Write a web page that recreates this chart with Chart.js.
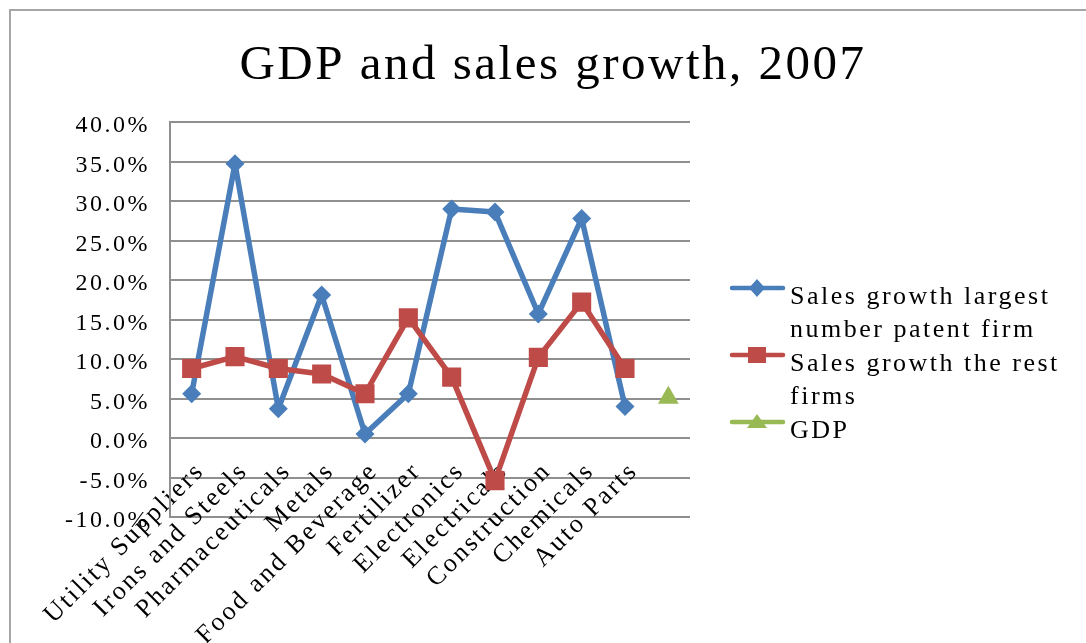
<!DOCTYPE html>
<html>
<head>
<meta charset="utf-8">
<script src="https://cdn.jsdelivr.net/npm/chart.js@4.4.1/dist/chart.umd.min.js"></script>
<style>
  body { margin: 0; background: #fff; }
  #wrap { position: relative; width: 1086px; height: 643px; overflow: hidden; }
  #ramka { position: absolute; left: 9px; top: 9px; width: 1200px; height: 800px; border: 2px solid #a6a6a6; }
  canvas { position: absolute; left: 0; top: 0; }
</style>
</head>
<body>
<div id="wrap">
  <div id="ramka"></div>
  <canvas id="wykres" width="1086" height="643"></canvas>
</div>
<script>
// industries on the category axis, last slot holds the GDP point
const categories = ["Utility Suppliers", "Irons and Steels", "Pharmaceuticals", "Metals", "Food and Beverage",
  "Fertilizer", "Electronics", "Electricals", "Construction", "Chemicals", "Auto Parts", ""];

// sales growth in %
const largestPatentFirm = [5.6, 34.7, 3.7, 18.1, 0.5, 5.6, 29.0, 28.6, 15.7, 27.8, 4.0, null];
const restFirms = [8.8, 10.3, 8.8, 8.1, 5.6, 15.2, 7.7, -5.4, 10.2, 17.2, 8.8, null];
const gdp = [null, null, null, null, null, null, null, null, null, null, null, 5.1];

const seriesNames = [
  ["Sales growth largest", "number patent firm"],
  ["Sales growth the rest", "firms"],
  ["GDP"]
];

const yMin = -10, yMax = 40, yStep = 5;

const blue = "#4a7ebb", red = "#be4b48", green = "#98b954", gray = "#8f8f8f";
const serif = "'Liberation Serif', 'Times New Roman', serif";
const legendWidth = 396;

Chart.defaults.font.family = serif;
Chart.defaults.color = "#000";

// small line + marker glyph for the legend
function ikona(color, shape) {
    let c = document.createElement("canvas");
    c.width = 106; c.height = 40;
    let g = c.getContext("2d");
    g.strokeStyle = color; g.fillStyle = color;
    g.lineWidth = 4.5; g.lineCap = "round";
    let y = 11, mx = 76;
    g.beginPath(); g.moveTo(51, y); g.lineTo(102, y); g.stroke();
    g.beginPath();
    if (shape === "diamond") {
        g.moveTo(mx, y - 9); g.lineTo(mx + 8, y); g.lineTo(mx, y + 9); g.lineTo(mx - 8, y);
    } else if (shape === "square") {
        g.rect(mx - 9, y - 8, 18, 16);
    } else {
        g.moveTo(mx, y - 8); g.lineTo(mx + 10, y + 6); g.lineTo(mx - 10, y + 6);
    }
    g.closePath(); g.fill();
    return c;
}
const legendIcons = [ikona(blue, "diamond"), ikona(red, "square"), ikona(green, "triangle")];

// wider glyph spacing for all canvas text, fixed legend width
const uklad = {
    id: "uklad",
    beforeLayout(chart) {
        chart.ctx.letterSpacing = "2.5px";
        let lg = chart.legend;
        if (lg && !lg.fitOrig) {
            lg.fitOrig = lg.fit;
            lg.fit = function () { this.fitOrig(); this.width = legendWidth; };
        }
    },
    beforeDraw(chart) { chart.ctx.letterSpacing = "2.5px"; }
};

let ctx = document.getElementById("wykres").getContext("2d");
let lineChart = new Chart(ctx, {
    type: "line",
    data: {
        labels: categories,
        datasets: [
            {
                label: seriesNames[0].join(" "),
                data: largestPatentFirm,
                borderColor: blue,
                backgroundColor: blue,
                borderWidth: 5.5,
                borderJoinStyle: "round",
                pointStyle: "rectRot",
                pointRadius: 9.5,
                pointBorderWidth: 0,
                tension: 0,
                order: 3
            },
            {
                label: seriesNames[1].join(" "),
                data: restFirms,
                borderColor: red,
                backgroundColor: red,
                borderWidth: 5.5,
                borderJoinStyle: "round",
                pointStyle: "rect",
                pointRadius: 13.5,
                pointBorderWidth: 0,
                tension: 0,
                order: 2
            },
            {
                label: seriesNames[2].join(" "),
                data: gdp,
                borderColor: green,
                backgroundColor: green,
                borderWidth: 5.5,
                showLine: false,
                pointStyle: "triangle",
                pointRadius: 12,
                pointBorderWidth: 0,
                order: 1
            }
        ]
    },
    options: {
        responsive: false,
        animation: false,
        layout: { padding: { left: 20, right: 0, top: 0, bottom: 126 } },
        plugins: {
            title: {
                display: true,
                text: "GDP and sales growth, 2007",
                color: "#000",
                font: { family: serif, size: 49, weight: "normal", lineHeight: 1 },
                padding: { top: 41.5, bottom: 31.5 }
            },
            legend: {
                position: "right",
                align: "start",
                title: { display: true, text: "", font: { size: 10, lineHeight: 1 }, padding: { top: 0, bottom: 273 } },
                labels: {
                    usePointStyle: true,
                    pointStyleWidth: 86,
                    padding: 1,
                    color: "#000",
                    font: { family: serif, size: 26, lineHeight: 33 / 26 },
                    generateLabels: (chart) => chart.data.datasets.map((ds, i) => ({
                        text: seriesNames[i],
                        pointStyle: legendIcons[i],
                        fillStyle: ds.borderColor,
                        strokeStyle: ds.borderColor,
                        lineWidth: 0,
                        fontColor: "#000",
                        hidden: false,
                        datasetIndex: i
                    }))
                }
            },
            tooltip: { enabled: false }
        },
        scales: {
            x: {
                position: { y: 0 },
                offset: true,
                grid: { display: false, drawTicks: false },
                border: { display: false },
                ticks: {
                    autoSkip: false,
                    minRotation: 45,
                    maxRotation: 45,
                    padding: 18,
                    labelOffset: 9,
                    color: "#000",
                    font: { family: serif, size: 26 }
                },
                afterFit: (s) => { s.paddingLeft = 0; s.paddingRight = 0; }
            },
            y: {
                min: yMin,
                max: yMax,
                ticks: {
                    stepSize: yStep,
                    padding: 20,
                    labelOffset: 4,
                    color: "#000",
                    font: { family: serif, size: 24 },
                    callback: (v) => v.toFixed(1) + "%"
                },
                grid: { color: gray, lineWidth: 2, drawTicks: false },
                border: { color: gray, width: 2 },
                afterFit: (s) => { s.width = 150; }
            }
        }
    },
    plugins: [uklad]
});
</script>
</body>
</html>
